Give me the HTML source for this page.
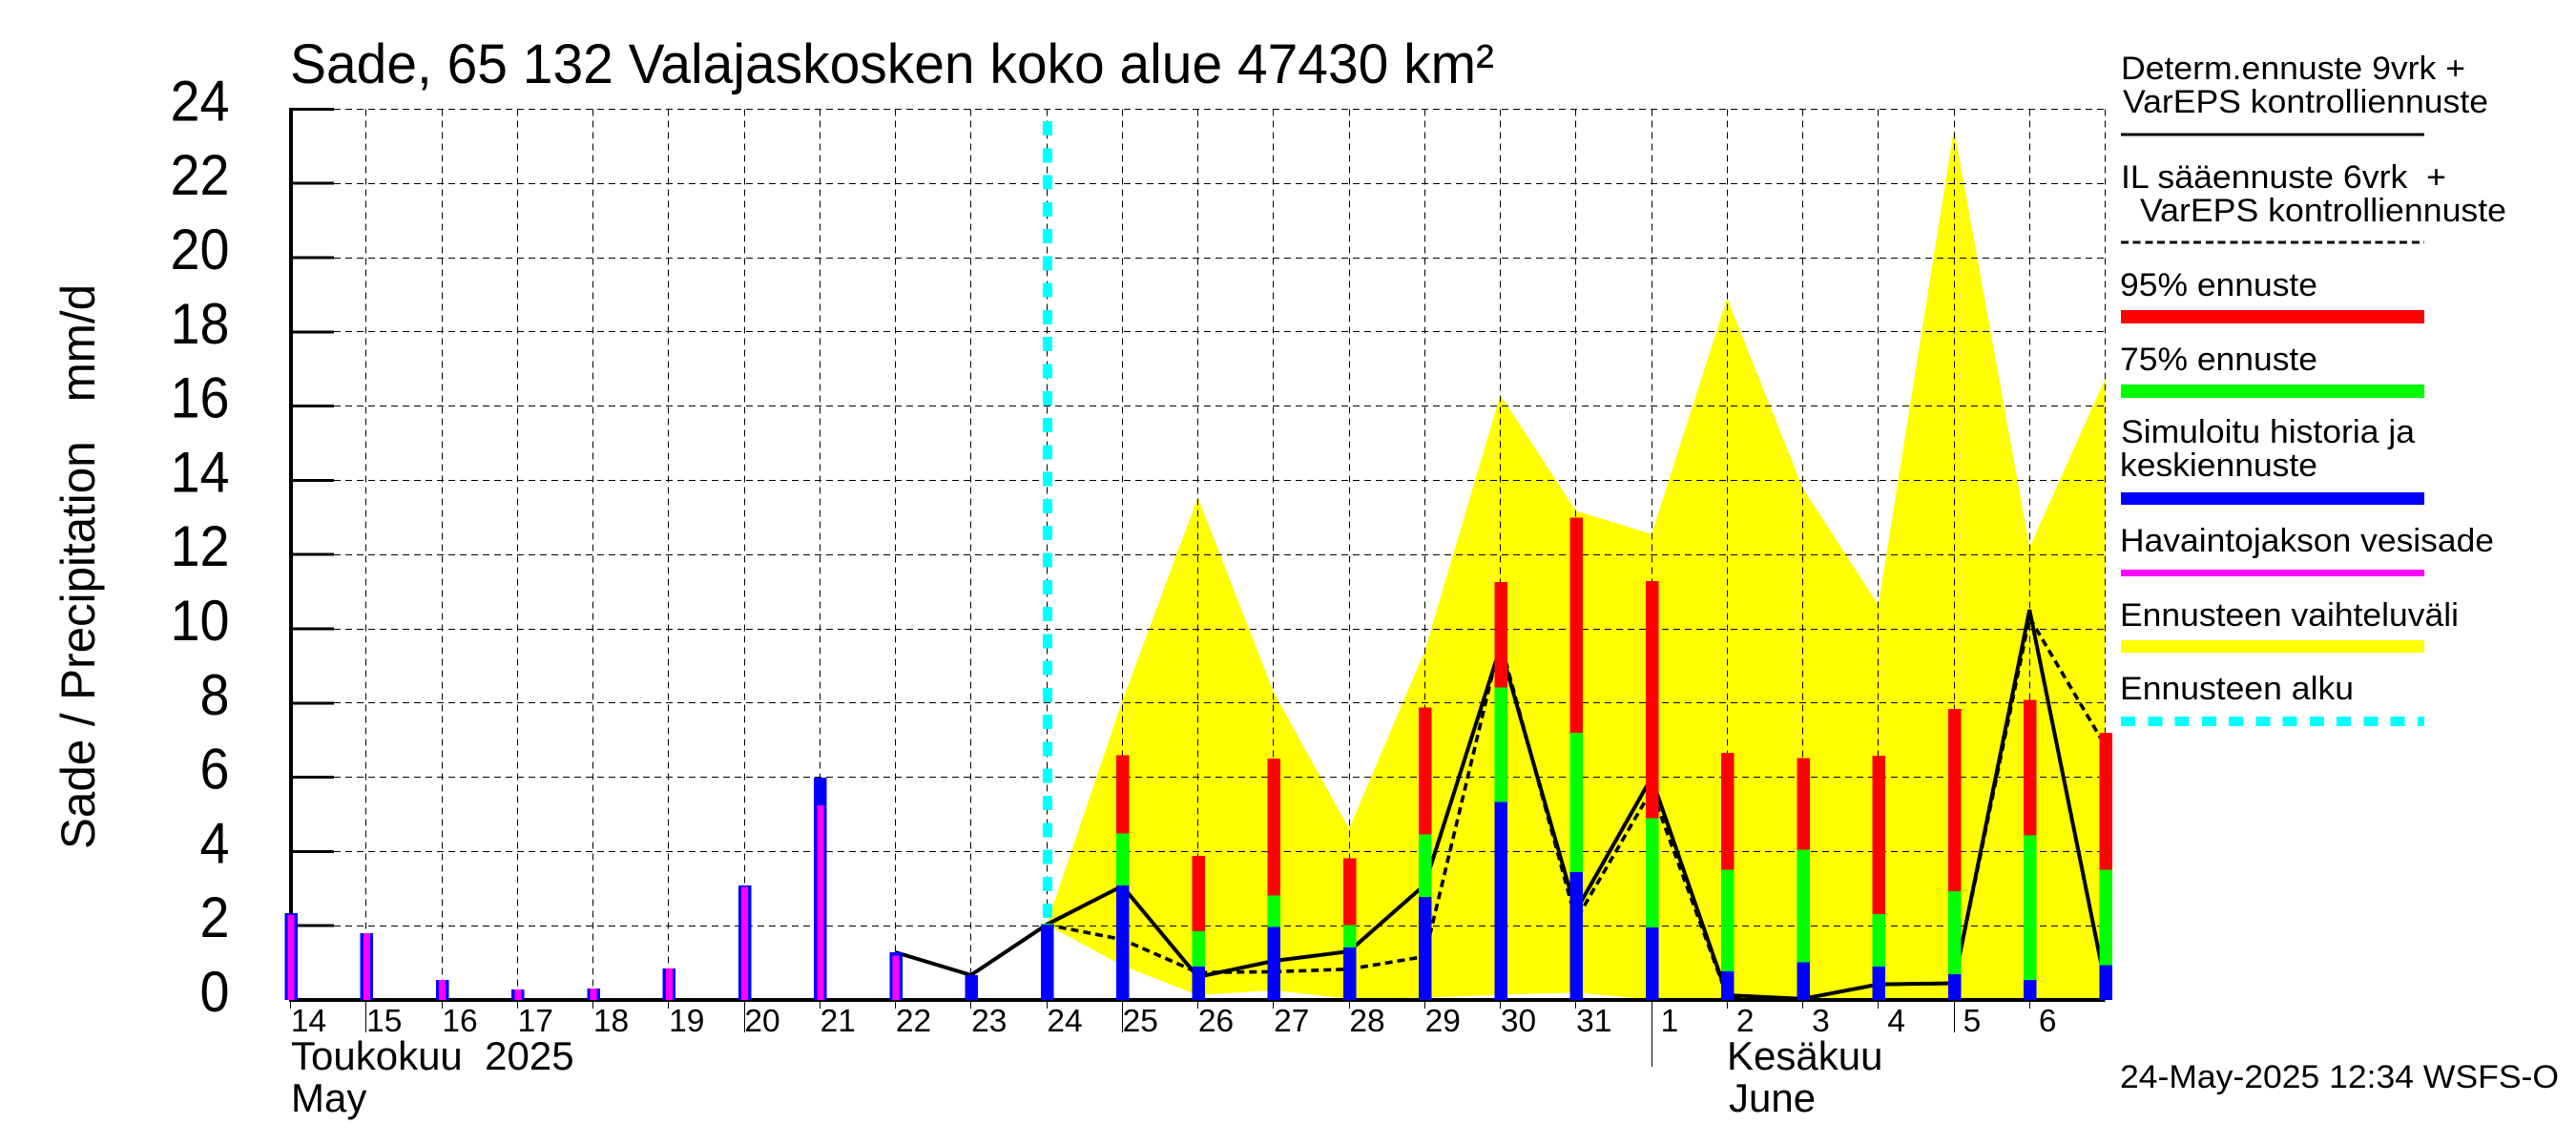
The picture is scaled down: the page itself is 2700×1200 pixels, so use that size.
<!DOCTYPE html>
<html lang="fi">
<head>
<meta charset="utf-8">
<title>Sade, 65 132 Valajaskosken koko alue</title>
<style>
  html,body{margin:0;padding:0;background:#fff;width:2700px;height:1200px;overflow:hidden}
  svg{display:block}
  text{font-family:"Liberation Sans",Arial,sans-serif;fill:#000;white-space:pre}
  .leg{font-size:34px}
  .crisp{shape-rendering:crispEdges}
</style>
</head>
<body>
<svg id="chart" xmlns="http://www.w3.org/2000/svg" width="2700" height="1200" viewBox="0 0 2700 1200">
  <rect x="0" y="0" width="2700" height="1200" fill="#fff"/>

  <text x="304" y="87" font-size="58" textLength="1262" lengthAdjust="spacingAndGlyphs">Sade, 65 132 Valajaskosken koko alue 47430 km²</text>
  <text transform="translate(99,890) rotate(-90)" font-size="50" textLength="592" lengthAdjust="spacingAndGlyphs">Sade / Precipitation   mm/d</text>

  <g id="plot"></g>

  <text x="305" y="1121" font-size="42">Toukokuu  2025</text>
  <text x="305" y="1165" font-size="42">May</text>
  <text x="1810" y="1121" font-size="42">Kesäkuu</text>
  <text x="1812" y="1165" font-size="42">June</text>

  <g>
    <g>
      <text class="leg" x="2223" y="83" textLength="361" lengthAdjust="spacingAndGlyphs">Determ.ennuste 9vrk +</text>
      <text class="leg" x="2225" y="118" textLength="383" lengthAdjust="spacingAndGlyphs">VarEPS kontrolliennuste</text>
      <line class="crisp" x1="2223" y1="141" x2="2541" y2="141" stroke="#000" stroke-width="3"/>
    </g>
    <g>
      <text class="leg" x="2223" y="197" textLength="341" lengthAdjust="spacingAndGlyphs">IL sääennuste 6vrk  +</text>
      <text class="leg" x="2243" y="232" textLength="384" lengthAdjust="spacingAndGlyphs">VarEPS kontrolliennuste</text>
      <line class="crisp" x1="2223" y1="254" x2="2541" y2="254" stroke="#000" stroke-width="3" stroke-dasharray="8 4.7"/>
    </g>
    <g>
      <text class="leg" x="2222" y="310" textLength="207" lengthAdjust="spacingAndGlyphs">95% ennuste</text>
      <rect class="crisp" x="2223" y="325" width="318" height="14" fill="#f00"/>
    </g>
    <g>
      <text class="leg" x="2222" y="388" textLength="207" lengthAdjust="spacingAndGlyphs">75% ennuste</text>
      <rect class="crisp" x="2223" y="403" width="318" height="14" fill="#0f0"/>
    </g>
    <g>
      <text class="leg" x="2223" y="464" textLength="308" lengthAdjust="spacingAndGlyphs">Simuloitu historia ja</text>
      <text class="leg" x="2222" y="499" textLength="207" lengthAdjust="spacingAndGlyphs">keskiennuste</text>
      <rect class="crisp" x="2223" y="516" width="318" height="13" fill="#00f"/>
    </g>
    <g>
      <text class="leg" x="2222" y="578" textLength="392" lengthAdjust="spacingAndGlyphs">Havaintojakson vesisade</text>
      <rect class="crisp" x="2223" y="597" width="318" height="7" fill="#f0f"/>
    </g>
    <g>
      <text class="leg" x="2222" y="656" textLength="355" lengthAdjust="spacingAndGlyphs">Ennusteen vaihteluväli</text>
      <rect class="crisp" x="2223" y="671" width="318" height="13" fill="#ff0"/>
    </g>
    <g>
      <text class="leg" x="2222" y="733" textLength="245" lengthAdjust="spacingAndGlyphs">Ennusteen alku</text>
      <line class="crisp" x1="2223" y1="756" x2="2541" y2="756" stroke="#0ff" stroke-width="10" stroke-dasharray="15 13.27"/>
    </g>
  </g>

  <text class="leg" x="2222" y="1140" textLength="460" lengthAdjust="spacingAndGlyphs">24-May-2025 12:34 WSFS-O</text>
</svg>

<script>
// ---- chart data -------------------------------------------------------
const dayLabels = ['14','15','16','17','18','19','20','21','22','23','24','25','26','27','28','29','30','31','1','2','3','4','5','6',''];
const longTickDays = ['15','20','25','5'];
const monthStartDay = '1';
const yTickValues = [0,2,4,6,8,10,12,14,16,18,20,22,24];

// Observed and simulated history: one value per day, starting at day 14
const observedRain = [2.29,1.8,0.54,0.28,0.31,0.85,3.04,5.25,1.19];
const simulatedHistory = [2.34,1.8,0.54,0.28,0.31,0.85,3.08,5.99,1.285,0.67];

// Forecast series: one value per day, starting at day 24
const forecastMean = [2.03,3.08,0.90,1.97,1.41,2.77,5.34,3.44,1.95,0.77,1.02,0.90,0.69,0.54,0.94];
const forecast75 = [2.06,4.49,1.85,2.82,2.02,4.46,8.42,7.2,4.9,3.51,4.05,2.31,2.93,4.44,3.51];
const forecast95 = [2.06,6.60,3.88,6.50,3.82,7.88,11.26,13.0,11.28,6.66,6.52,6.58,7.84,8.09,7.2];
const rangeUpper = [2.03,8.05,13.54,8.3,4.61,9.4,16.3,13.18,12.55,18.9,13.79,10.64,23.47,12.19,16.74];
const rangeLower = [2.03,0.93,0.13,0.26,0.03,0.06,0.14,0.2,0.01,0,0,0,0,0,0];

// Solid line starts at day 22, dashed line at day 24
const determLine = [1.285,0.67,2.03,3.07,0.62,1.05,1.31,3.1,9.5,2.4,5.99,0.13,0.03,0.42,0.45,10.51,0.45];
const ilLine = [2.03,1.63,0.74,0.76,0.83,1.17,9.66,2.15,5.65,0.1,0.03,0.42,0.45,10.3,6.85];

const forecastStartIndex = 10;
const determStartIndex = 8;

// ---- axis functions ---------------------------------------------------
const NS = 'http://www.w3.org/2000/svg';
const plot = document.getElementById('plot');
const X0 = 304.5, DAY = 79.25, Y0 = 1048, UNIT = 38.9;
const xScale = i => X0 + i * DAY;
const yScale = v => Y0 - v * UNIT;
const pixel = p => Math.floor(p) + 0.5;
const yMaxVal = yTickValues[yTickValues.length - 1];
const xEnd = xScale(dayLabels.length - 1);

function mk(tag, attrs, text) {
  const el = document.createElementNS(NS, tag);
  for (const k in attrs) el.setAttribute(k, attrs[k]);
  if (text !== undefined) el.textContent = text;
  plot.appendChild(el);
  return el;
}
const ptsFrom = (arr, start) => arr.map((v, i) => xScale(start + i) + ',' + yScale(v));

// ---- forecast range band ----------------------------------------------
const bandTop = ptsFrom(rangeUpper, forecastStartIndex);
const bandBottom = ptsFrom(rangeLower, forecastStartIndex).reverse();
const band = mk('polygon', {points: bandTop.concat(bandBottom).join(' '), fill: '#ff0'});



// ---- grid -------------------------------------------------------------
yTickValues.forEach(v => {
  if (v === 0) return;
  const g = mk('line', {x1: 350, x2: xEnd, y1: pixel(yScale(v)), y2: pixel(yScale(v)), stroke: '#000', 'stroke-width': 1, 'stroke-dasharray': '7 5', class: 'crisp'});
  
  
});
dayLabels.forEach((d, i) => {
  if (i === 0) return;
  const g = mk('line', {x1: pixel(xScale(i)), x2: pixel(xScale(i)), y1: yScale(yMaxVal), y2: Y0, stroke: '#000', 'stroke-width': 1, 'stroke-dasharray': '7 5', class: 'crisp'});
  
  
});

// ---- lines (under the bars) -------------------------------------------
const il = mk('polyline', {points: ptsFrom(ilLine, forecastStartIndex).join(' '), fill: 'none', stroke: '#000', 'stroke-width': 3.6, 'stroke-dasharray': '8 5'});


const det = mk('polyline', {points: ptsFrom(determLine, determStartIndex).join(' '), fill: 'none', stroke: '#000', 'stroke-width': 4});



// ---- axes -------------------------------------------------------------
const yAxis = mk('line', {x1: 305, x2: 305, y1: yScale(yMaxVal) - 1.5, y2: Y0, stroke: '#000', 'stroke-width': 4, class: 'crisp'});


const xAxis = mk('line', {x1: 303, x2: xEnd, y1: Y0, y2: Y0, stroke: '#000', 'stroke-width': 4, class: 'crisp'});



yTickValues.forEach(v => {
  if (v !== 0) {
    const t = mk('line', {x1: 305, x2: 350, y1: yScale(v), y2: yScale(v), stroke: '#000', 'stroke-width': 3, class: 'crisp'});
    
    
  }
  const s = String(v);
  const lab = mk('text', {x: 240.5, y: yScale(v) + 12, 'font-size': 60, 'text-anchor': 'end', textLength: s.length * 31, lengthAdjust: 'spacingAndGlyphs'}, s);
  
  
});

dayLabels.forEach((d, i) => {
  let end = 1057;
  if (longTickDays.includes(d)) end = 1082;
  if (d === monthStartDay) end = 1118;
  if (d !== '') {
    const t = mk('line', {x1: pixel(xScale(i)), x2: pixel(xScale(i)), y1: Y0, y2: end, stroke: '#000', 'stroke-width': 1, class: 'crisp'});
    
    
    const lab = mk('text', {x: xScale(i) + 19, y: 1081, 'font-size': 33.5, 'text-anchor': 'middle'}, d);
    
    
  }
});

// ---- forecast start marker --------------------------------------------
const startMark = mk('line', {x1: xScale(forecastStartIndex) + 1, x2: xScale(forecastStartIndex) + 1, y1: 127, y2: 963, stroke: '#0ff', 'stroke-width': 10, 'stroke-dasharray': '15 13.28', class: 'crisp'});



// ---- bars -------------------------------------------------------------
function bar(i, fromVal, toVal, width, color) {
  const top = yScale(toVal), bottom = yScale(fromVal);
  return mk('rect', {x: xScale(i) + 0.5 - width / 2, y: top, width: width, height: Math.max(bottom - top, 0), fill: color, class: 'crisp'});
}
simulatedHistory.forEach((v, i) => {
  const b = bar(i, 0, v, 13.5, '#00f');
  
  
});
observedRain.forEach((v, i) => {
  const b = bar(i, 0, v, 7, '#f0f');
  
  
});
forecastMean.forEach((v, k) => {
  const i = forecastStartIndex + k;
  const r = bar(i, forecast75[k], forecast95[k], 13.5, '#f00');
  
  
  const g = bar(i, v, forecast75[k], 13.5, '#0f0');
  
  
  const b = bar(i, 0, v, 13.5, '#00f');
  
  
});
</script>
</body>
</html>
